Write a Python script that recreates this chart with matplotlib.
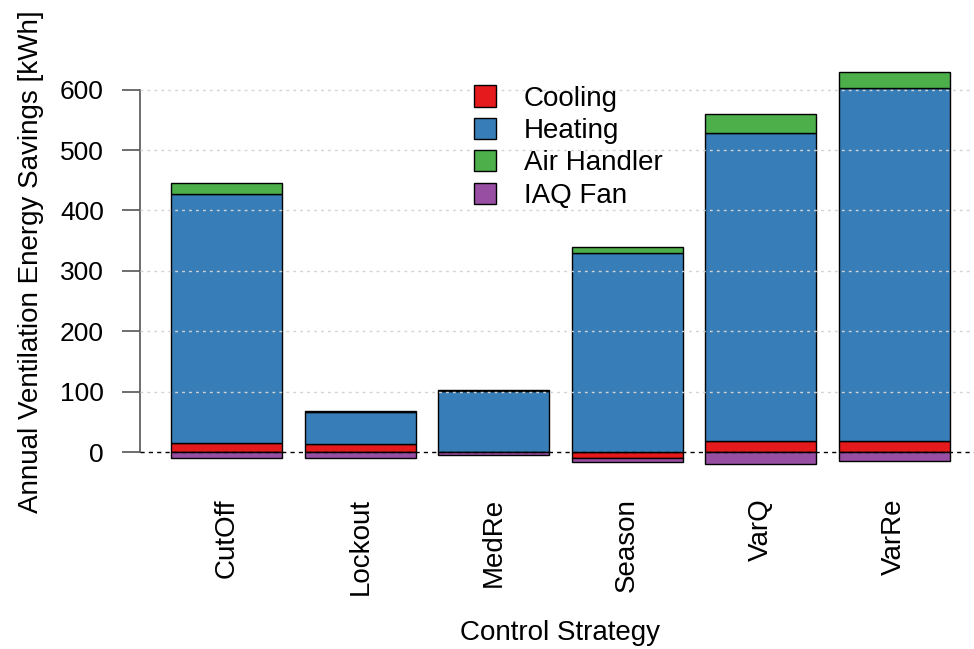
import numpy as np
import matplotlib
matplotlib.use("Agg")
import matplotlib.pyplot as plt
from matplotlib.patches import Patch

plt.rcParams['font.family'] = ['Liberation Sans', 'DejaVu Sans']

# annual savings per control strategy [kWh]
strategies = ['CutOff', 'Lockout', 'MedRe', 'Season', 'VarQ', 'VarRe']
cooling = [15, 13, 0, -9, 19, 19]
heating = [412, 53, 101, 329, 509, 583]
air_handler = [18, 2, 2, 11, 32, 27]
iaq_fan = [-9, -9, -5, -8, -20, -15]

series = [('Cooling', cooling, '#E41A1C'),
          ('Heating', heating, '#377EB8'),
          ('Air Handler', air_handler, '#4DAF4A'),
          ('IAQ Fan', iaq_fan, '#984EA3')]

fig = plt.figure(figsize=(9.74, 6.49), dpi=100)
# plot region goes a bit past the right edge, like the cropped original
ax = fig.add_axes([140 / 974, 1 - 480 / 649, 841 / 974, 423 / 649])

x = np.arange(len(strategies))
width = 1 / 1.2

# positives stack upward, negatives stack downward
pos_bottom = np.zeros(len(strategies))
neg_bottom = np.zeros(len(strategies))
for name, vals, col in series:
    vals = np.array(vals, dtype=float)
    bottom = np.where(vals >= 0, pos_bottom, neg_bottom)
    ax.bar(x, vals, width, bottom=bottom, color=col, edgecolor='black',
           linewidth=1.0, zorder=2)
    pos_bottom = pos_bottom + np.where(vals >= 0, vals, 0)
    neg_bottom = neg_bottom + np.where(vals < 0, vals, 0)

# grid drawn over the bars
for yv in range(100, 700, 100):
    ax.axhline(yv, color='#d3d3d3', linestyle=(0, (2, 3)), linewidth=1.0, zorder=3)
ax.axhline(0, color='black', linestyle=(0, (3, 3)), linewidth=1.0, zorder=4)

ax.set_xlim(-0.65, len(strategies) - 1 + 0.65)
ax.set_ylim(-46, 654)

for s in ['top', 'right', 'bottom']:
    ax.spines[s].set_visible(False)
ax.spines['left'].set_bounds(0, 600)
ax.spines['left'].set_color('#555555')
ax.spines['left'].set_linewidth(1.2)

ax.set_yticks(range(0, 700, 100))
ax.tick_params(axis='y', length=13, width=1.2, color='#555555', labelsize=19, pad=13)
ax.set_xticks(x)
ax.set_xticklabels(strategies, rotation=90, fontsize=20)
ax.tick_params(axis='x', length=0, pad=13)

ax.set_ylabel('Annual Ventilation Energy Savings [kWh]', fontsize=20)
ax.yaxis.set_label_coords(-0.114, 0.515)
ax.set_xlabel('Control Strategy', fontsize=20, labelpad=18)

handles = [Patch(facecolor=col, edgecolor='black', linewidth=1.0, label=name)
           for name, vals, col in series]
ax.legend(handles=handles, loc='upper left', bbox_to_anchor=(0.367, 0.992),
          frameon=False, fontsize=20, handlelength=0.8, handleheight=0.8,
          handletextpad=1.0, labelspacing=0.22)

fig.savefig('out.png', dpi=100)
